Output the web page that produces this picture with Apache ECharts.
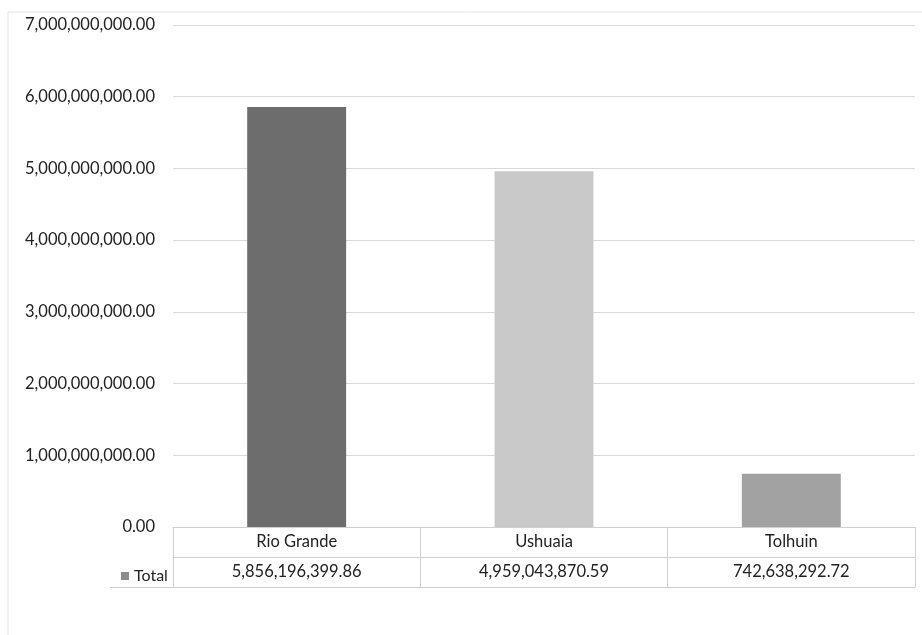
<!DOCTYPE html>
<html>
<head>
<meta charset="utf-8">
<script src="https://cdn.jsdelivr.net/npm/echarts@6/dist/echarts.min.js"></script>
<style>
html,body{margin:0;padding:0;background:#ffffff;}
#main{width:922px;height:635px;}
</style>
</head>
<body>
<div id="main"></div>
<script>
var categories = ['Rio Grande', 'Ushuaia', 'Tolhuin'];
var totals = [5856196399.86, 4959043870.59, 742638292.72];
var barColors = ['#6d6d6d', '#c9c9c9', '#a2a2a2'];
var yTicks = [0, 1e9, 2e9, 3e9, 4e9, 5e9, 6e9, 7e9];
var seriesName = 'Total';

function fmt(v) {
  return v.toLocaleString('en-US', {minimumFractionDigits: 2, maximumFractionDigits: 2});
}

var font = 'Lato, "Open Sans", sans-serif';
var tableLine = '#cfcfcf';

var chart = echarts.init(document.getElementById('main'));
chart.setOption({
  backgroundColor: '#ffffff',
  animation: false,
  legend: {
    show: true,
    left: 116,
    top: 563,
    itemWidth: 8,
    itemHeight: 8,
    itemGap: 4,
    icon: 'rect',
    data: [seriesName],
    textStyle: {fontFamily: font, fontSize: 16, color: '#222'},
    selectedMode: false
  },
  graphic: [
    {type: 'rect', shape: {x: 8, y: 12, width: 940, height: 640}, style: {fill: 'none', stroke: '#e4e4e4', lineWidth: 1}, silent: true},
    {type: 'line', shape: {x1: 110, y1: 587.5, x2: 173, y2: 587.5}, style: {stroke: tableLine, lineWidth: 1}, silent: true}
  ],
  grid: {left: 173, right: 7, top: 25, bottom: 108, containLabel: false},
  xAxis: [
    {
      type: 'category',
      data: categories,
      position: 'bottom',
      axisLine: {show: true, lineStyle: {color: tableLine, width: 1}},
      axisTick: {show: true, length: 60, lineStyle: {color: tableLine, width: 1}},
      axisLabel: {show: true, margin: 6, fontFamily: font, fontSize: 16.5, color: '#222'},
      splitLine: {show: false}
    },
    {
      type: 'category',
      data: totals.map(fmt),
      position: 'bottom',
      offset: 30,
      axisLine: {show: true, lineStyle: {color: tableLine, width: 1}},
      axisTick: {show: false},
      axisLabel: {show: true, margin: 6, fontFamily: font, fontSize: 16.5, color: '#222'},
      splitLine: {show: false}
    },
    {
      type: 'category',
      data: categories,
      position: 'bottom',
      offset: 60,
      axisLine: {show: true, lineStyle: {color: tableLine, width: 1}},
      axisTick: {show: false},
      axisLabel: {show: false},
      splitLine: {show: false}
    }
  ],
  yAxis: {
    type: 'value',
    min: yTicks[0],
    max: yTicks[yTicks.length - 1],
    interval: yTicks[1] - yTicks[0],
    axisLine: {show: false},
    axisTick: {show: false},
    axisLabel: {margin: 18, fontFamily: font, fontSize: 16.5, color: '#222', formatter: function (v) { return fmt(v); }},
    splitLine: {show: true, lineStyle: {color: '#d9d9d9', width: 1}}
  },
  series: [{
    name: seriesName,
    type: 'bar',
    xAxisIndex: 0,
    barWidth: '40%',
    itemStyle: {color: '#8c8c8c'},
    data: totals.map(function (v, i) { return {value: v, itemStyle: {color: barColors[i]}}; })
  }]
});
</script>
</body>
</html>
